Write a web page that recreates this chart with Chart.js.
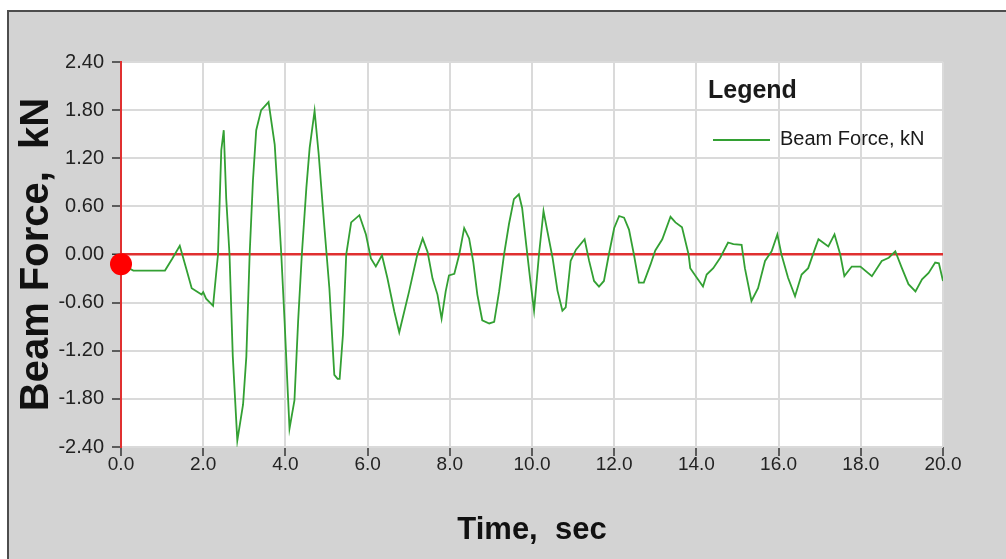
<!DOCTYPE html>
<html>
<head>
<meta charset="utf-8">
<script src="https://cdn.jsdelivr.net/npm/chart.js@4.4.1/dist/chart.umd.min.js"></script>
<style>
    body { margin: 0; background: #ffffff; }
    canvas { display: block; }
</style>
</head>
<body>
<canvas id="forceChart" width="1006" height="559"></canvas>
<script>
// time history
var timeSec = [0.0, 0.3, 1.07, 1.25, 1.43, 1.59, 1.72, 1.96, 2.0, 2.07, 2.24, 2.36, 2.44, 2.50, 2.56, 2.64,
    2.72, 2.83, 2.97, 3.05, 3.13, 3.21, 3.29, 3.41, 3.59, 3.74, 3.82, 3.90, 3.98, 4.06, 4.10, 4.22,
    4.31, 4.40, 4.51, 4.59, 4.71, 4.81, 4.95, 5.07, 5.19, 5.27, 5.32, 5.40, 5.48, 5.60, 5.80, 5.96,
    6.08, 6.20, 6.35, 6.48, 6.65, 6.77, 7.01, 7.21, 7.34, 7.46, 7.58, 7.70, 7.80, 7.90, 7.98, 8.11,
    8.23, 8.35, 8.47, 8.57, 8.67, 8.79, 8.96, 9.08, 9.20, 9.32, 9.44, 9.56, 9.68, 9.76, 9.86, 9.96,
    10.05, 10.17, 10.28, 10.37, 10.50, 10.62, 10.74, 10.82, 10.94, 11.07, 11.28, 11.39, 11.51, 11.63,
    11.75, 11.87, 12.00, 12.12, 12.24, 12.36, 12.48, 12.60, 12.72, 12.88, 13.00, 13.17, 13.37, 13.49,
    13.65, 13.81, 13.85, 14.01, 14.16, 14.25, 14.41, 14.58, 14.77, 14.90, 15.10, 15.18, 15.34, 15.50,
    15.67, 15.83, 15.97, 16.07, 16.23, 16.40, 16.56, 16.72, 16.89, 16.97, 17.21, 17.36, 17.50, 17.60,
    17.78, 17.99, 18.27, 18.51, 18.68, 18.84, 19.00, 19.16, 19.33, 19.49, 19.65, 19.81, 19.90, 20.00];

var beamForce = [-0.12, -0.2, -0.2, -0.05, 0.11, -0.18, -0.42, -0.5, -0.47, -0.55, -0.64, 0.0, 1.3, 1.55, 0.7, 0.0,
    -1.27, -2.32, -1.87, -1.27, 0.0, 0.92, 1.55, 1.8, 1.9, 1.37, 0.7, 0.0, -0.83, -1.74, -2.17, -1.82,
    -0.83, 0.0, 0.83, 1.33, 1.79, 1.25, 0.33, -0.42, -1.5, -1.55, -1.55, -1.0, 0.0, 0.4, 0.49, 0.25,
    -0.05, -0.15, -0.01, -0.29, -0.71, -0.97, -0.46, 0.0, 0.2, 0.03, -0.3, -0.5, -0.8, -0.46, -0.26, -0.24,
    0.0, 0.33, 0.2, -0.09, -0.5, -0.82, -0.86, -0.84, -0.46, 0.0, 0.38, 0.69, 0.75, 0.58, 0.12, -0.33,
    -0.7, 0.0, 0.54, 0.3, -0.04, -0.45, -0.7, -0.66, -0.08, 0.06, 0.19, -0.08, -0.33, -0.4,
    -0.33, 0.0, 0.33, 0.48, 0.46, 0.31, 0.0, -0.35, -0.35, -0.13, 0.05, 0.19, 0.47, 0.4,
    0.34, 0.0, -0.17, -0.29, -0.4, -0.25, -0.17, -0.04, 0.15, 0.13, 0.12, -0.17, -0.58, -0.42,
    -0.08, 0.04, 0.25, 0.0, -0.29, -0.52, -0.25, -0.17, 0.08, 0.19, 0.1, 0.25, 0.0, -0.27,
    -0.15, -0.15, -0.27, -0.08, -0.04, 0.04, -0.17, -0.37, -0.46, -0.31, -0.23, -0.1, -0.11, -0.33];

// current position marker
var markerTime = [0.0];
var markerForce = [-0.12];

var xTicks = [0, 2, 4, 6, 8, 10, 12, 14, 16, 18, 20];
var yTicks = [-2.4, -1.8, -1.2, -0.6, 0, 0.6, 1.2, 1.8, 2.4];

var fontFamily = "'Liberation Sans', Arial, sans-serif";

var linePoints = timeSec.map(function (t, i) { return { x: t, y: beamForce[i] }; });
var markerPoints = markerTime.map(function (t, i) { return { x: t, y: markerForce[i] }; });

// gray frame, white plot area and the in-plot legend
var frame = {
    id: 'frame',
    beforeDraw: function (chart) {
        var c = chart.ctx, a = chart.chartArea;
        c.save();
        c.fillStyle = '#ffffff';
        c.fillRect(0, 0, chart.width, chart.height);
        c.fillStyle = '#d3d3d3';
        c.fillRect(7, 10, chart.width - 7, chart.height - 10);
        c.fillStyle = '#4d4d4d';
        c.fillRect(7, 10, chart.width - 7, 2);
        c.fillRect(7, 10, 2, chart.height - 10);
        c.fillStyle = '#ffffff';
        c.fillRect(a.left, a.top, a.right - a.left, a.bottom - a.top);
        c.restore();
    },
    afterDraw: function (chart) {
        var c = chart.ctx;
        var ds = chart.data.datasets[1];
        c.save();
        c.fillStyle = '#1a1a1a';
        c.textBaseline = 'middle';
        c.font = 'bold 25px ' + fontFamily;
        c.fillText('Legend', 708, 91);
        c.strokeStyle = ds.borderColor;
        c.lineWidth = 2;
        c.beginPath();
        c.moveTo(713, 140);
        c.lineTo(770, 140);
        c.stroke();
        c.font = '20px ' + fontFamily;
        c.fillText(ds.label, 780, 139);
        c.restore();
    }
};

var ctx = document.getElementById('forceChart').getContext('2d');
var forceChart = new Chart(ctx, {
    type: 'line',
    data: {
        datasets: [{
                label: 'Position',
                data: markerPoints,
                showLine: false,
                pointRadius: 11,
                pointBackgroundColor: '#ff0000',
                pointBorderColor: '#ff0000',
                pointBorderWidth: 0,
                clip: false
            },
            {
                label: 'Beam Force, kN',
                data: linePoints,
                borderColor: '#33a033',
                borderWidth: 1.8,
                tension: 0,
                pointRadius: 0,
                fill: false
            }
        ]
    },
    options: {
        responsive: false,
        animation: false,
        layout: {
            padding: { left: 0, top: 62, right: 63, bottom: 0 }
        },
        scales: {
            x: {
                type: 'linear',
                min: 0,
                max: 20,
                afterBuildTicks: function (scale) {
                    scale.ticks = xTicks.map(function (v) { return { value: v }; });
                },
                afterFit: function (scale) {
                    scale.height = 112;
                },
                grid: {
                    color: function (c) { return c.tick && c.tick.value === 0 ? '#e03030' : '#dadada'; },
                    lineWidth: 2,
                    tickColor: '#333333',
                    tickLength: 9,
                    tickWidth: 1.5
                },
                border: { display: false },
                ticks: {
                    color: '#222222',
                    padding: -3,
                    maxRotation: 0,
                    font: { family: fontFamily, size: 19 },
                    callback: function (v) { return Number(v).toFixed(1); }
                },
                title: {
                    display: true,
                    text: 'Time,  sec',
                    color: '#111111',
                    font: { family: fontFamily, size: 31, weight: 'bold', lineHeight: 1 },
                    padding: { top: 0, bottom: 13 }
                }
            },
            y: {
                type: 'linear',
                min: -2.4,
                max: 2.4,
                afterBuildTicks: function (scale) {
                    scale.ticks = yTicks.map(function (v) { return { value: v }; });
                },
                afterFit: function (scale) {
                    scale.width = 121;
                },
                grid: {
                    color: function (c) { return c.tick && c.tick.value === 0 ? '#e03030' : '#dadada'; },
                    lineWidth: function (c) { return c.tick && c.tick.value === 0 ? 2.5 : 2; },
                    tickColor: '#333333',
                    tickLength: 9,
                    tickWidth: 1.5
                },
                border: { display: true, color: '#e03030', width: 2 },
                ticks: {
                    color: '#222222',
                    padding: 8,
                    font: { family: fontFamily, size: 20 },
                    callback: function (v) { return Number(v).toFixed(2); }
                },
                title: {
                    display: true,
                    text: 'Beam Force,  kN',
                    color: '#111111',
                    font: { family: fontFamily, size: 40, weight: 'bold', lineHeight: 1 },
                    padding: { top: 17, bottom: 0 }
                }
            }
        },
        plugins: {
            legend: { display: false },
            tooltip: { enabled: false }
        }
    },
    plugins: [frame]
});
</script>
</body>
</html>
